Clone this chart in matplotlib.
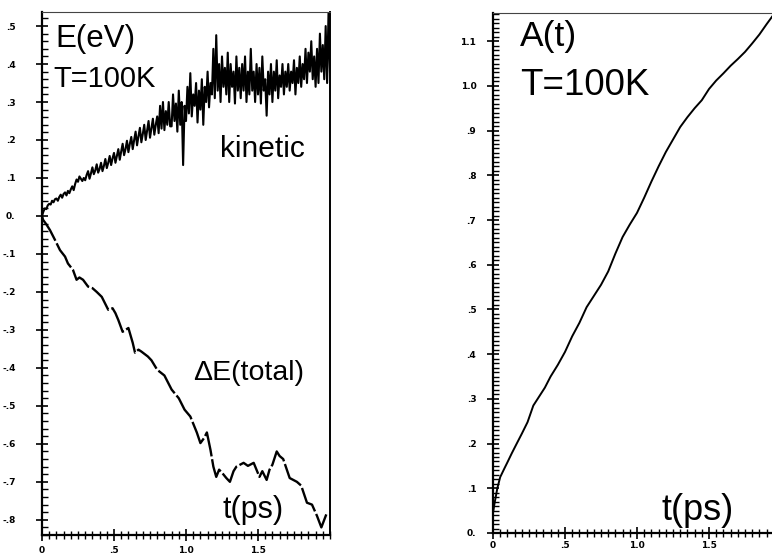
import numpy as np
import matplotlib.pyplot as plt
from matplotlib.ticker import FixedLocator, MultipleLocator

# kinetic energy, sampled every 0.01 ps
t_kin = np.arange(201) * 0.01
e_kin = [
    0.000, 0.012, 0.020, 0.018, 0.028, 0.032, 0.030, 0.040, 0.036, 0.044,
    0.046, 0.040, 0.050, 0.056, 0.048, 0.058, 0.062, 0.054, 0.066, 0.060,
    0.070, 0.078, 0.068, 0.084, 0.096, 0.090, 0.104, 0.098, 0.092, 0.100,
    0.094, 0.108, 0.118, 0.098, 0.112, 0.128, 0.110, 0.120, 0.136, 0.114,
    0.124, 0.140, 0.118, 0.132, 0.150, 0.126, 0.140, 0.158, 0.134, 0.152,
    0.166, 0.140, 0.158, 0.176, 0.148, 0.170, 0.190, 0.160, 0.176, 0.198,
    0.168, 0.190, 0.208, 0.176, 0.200, 0.222, 0.186, 0.210, 0.232, 0.194,
    0.216, 0.240, 0.200, 0.226, 0.250, 0.206, 0.232, 0.256, 0.214, 0.240,
    0.262, 0.218, 0.290, 0.230, 0.300, 0.226, 0.276, 0.240, 0.300, 0.236,
    0.236, 0.320, 0.250, 0.296, 0.222, 0.330, 0.240, 0.300, 0.134, 0.290,
    0.250, 0.340, 0.270, 0.376, 0.262, 0.320, 0.290, 0.350, 0.246, 0.330,
    0.280, 0.360, 0.240, 0.340, 0.300, 0.380, 0.286, 0.350, 0.320, 0.440,
    0.310, 0.476, 0.330, 0.400, 0.300, 0.420, 0.340, 0.390, 0.320, 0.430,
    0.300, 0.400, 0.340, 0.380, 0.296, 0.420, 0.330, 0.390, 0.310, 0.400,
    0.330, 0.420, 0.300, 0.380, 0.320, 0.440, 0.330, 0.380, 0.300, 0.400,
    0.320, 0.390, 0.296, 0.420, 0.330, 0.360, 0.264, 0.380, 0.320, 0.400,
    0.300, 0.380, 0.330, 0.410, 0.310, 0.370, 0.340, 0.400, 0.320, 0.380,
    0.340, 0.400, 0.330, 0.380, 0.350, 0.410, 0.320, 0.390, 0.350, 0.420,
    0.340, 0.400, 0.360, 0.440, 0.350, 0.430, 0.380, 0.460, 0.360, 0.420,
    0.340, 0.440, 0.350, 0.480, 0.380, 0.450, 0.360, 0.500, 0.350, 0.540,
    0.380,
]

# change of total energy
t_tot = [0.0, 0.007, 0.03, 0.055, 0.09, 0.125, 0.16, 0.18, 0.215, 0.24, 0.26,
         0.285, 0.32, 0.35, 0.38, 0.415, 0.46, 0.49, 0.51, 0.53, 0.56, 0.60,
         0.63, 0.646, 0.67, 0.69, 0.735, 0.76, 0.80, 0.85, 0.90, 0.95, 0.99,
         1.03, 1.075, 1.10, 1.125, 1.145, 1.17, 1.19, 1.21, 1.23, 1.25, 1.28,
         1.305, 1.33, 1.35, 1.40, 1.43, 1.47, 1.51, 1.53, 1.56, 1.58, 1.60,
         1.63, 1.65, 1.675, 1.72, 1.77, 1.80, 1.84, 1.875, 1.91, 1.94, 1.96,
         1.98]
e_tot = [0.0, -0.01, -0.022, -0.037, -0.063, -0.09, -0.107, -0.125, -0.142,
         -0.168, -0.162, -0.168, -0.186, -0.19, -0.2, -0.213, -0.247, -0.243,
         -0.256, -0.274, -0.305, -0.295, -0.334, -0.36, -0.352, -0.357, -0.37,
         -0.38, -0.405, -0.42, -0.457, -0.48, -0.51, -0.528, -0.57, -0.598,
         -0.585, -0.57, -0.616, -0.66, -0.687, -0.668, -0.676, -0.69, -0.70,
         -0.672, -0.66, -0.65, -0.658, -0.65, -0.687, -0.672, -0.695, -0.668,
         -0.655, -0.62, -0.632, -0.64, -0.69, -0.70, -0.71, -0.755, -0.76,
         -0.79, -0.82, -0.80, -0.78]

# A(t)
t_a = [0.0, 0.01, 0.03, 0.05, 0.08, 0.10, 0.13, 0.16, 0.20, 0.24, 0.28, 0.32,
       0.36, 0.40, 0.45, 0.50, 0.55, 0.60, 0.65, 0.70, 0.75, 0.80, 0.85, 0.90,
       0.95, 1.00, 1.05, 1.10, 1.15, 1.20, 1.25, 1.30, 1.35, 1.40, 1.45, 1.50,
       1.55, 1.60, 1.65, 1.70, 1.75, 1.80, 1.85, 1.90, 1.95, 2.0]
a_t = [0.045, 0.065, 0.10, 0.125, 0.145, 0.158, 0.178, 0.197, 0.222, 0.248,
       0.285, 0.305, 0.325, 0.35, 0.376, 0.405, 0.44, 0.47, 0.505, 0.53, 0.555,
       0.585, 0.625, 0.662, 0.69, 0.716, 0.75, 0.786, 0.82, 0.852, 0.88, 0.908,
       0.93, 0.95, 0.968, 0.993, 1.012, 1.028, 1.045, 1.06, 1.076, 1.095,
       1.115, 1.138, 1.16, 1.18]

left_yticks = [-0.8, -0.7, -0.6, -0.5, -0.4, -0.3, -0.2, -0.1, 0.0, 0.1, 0.2, 0.3, 0.4, 0.5]
left_ylabels = ['-.8', '-.7', '-.6', '-.5', '-.4', '-.3', '-.2', '-.1', '0.', '.1', '.2', '.3', '.4', '.5']
right_yticks = [0.0, 0.1, 0.2, 0.3, 0.4, 0.5, 0.6, 0.7, 0.8, 0.9, 1.0, 1.1]
right_ylabels = ['0.', '.1', '.2', '.3', '.4', '.5', '.6', '.7', '.8', '.9', '1.0', '1.1']
left_xticks = [0.0, 0.5, 1.0, 1.5]
left_xlabels = ['0', '.5', '1.0', '1.5']
right_xticks = [0.0, 0.5, 1.0, 1.5, 2.0]
right_xlabels = ['0', '.5', '1.0', '1.5', '2.0']

W, H = 772, 555
fig = plt.figure(figsize=(W / 100, H / 100), dpi=100)

tickfont = dict(family='DejaVu Sans', weight='bold', size=6.5)
textfont = dict(family='Liberation Sans')


def px_axes(x0, y0, x1, y1):
    # axes from pixel box (top-left origin)
    return fig.add_axes([x0 / W, 1 - y1 / H, (x1 - x0) / W, (y1 - y0) / H])


def style(ax, ypad, xpad, yminor):
    for s in ['left', 'bottom']:
        ax.spines[s].set_linewidth(1.6)
    ax.spines['top'].set_linewidth(0.8)
    ax.spines['top'].set_color('#444444')
    ax.spines['right'].set_linewidth(1.4)
    ax.xaxis.set_minor_locator(MultipleLocator(0.05))
    ax.yaxis.set_minor_locator(MultipleLocator(yminor))
    ax.tick_params(which='both', left=True, bottom=True, top=False, right=False,
                   color='black')
    ax.tick_params(axis='x', which='major', direction='inout', length=8, width=1.2, pad=xpad)
    ax.tick_params(axis='x', which='minor', direction='inout', length=6, width=1.0)
    ax.tick_params(axis='y', which='major', direction='inout', length=8, width=1.2, pad=ypad)
    ax.tick_params(axis='y', which='minor', direction='in', length=4, width=1.0)
    for lab in ax.get_xticklabels() + ax.get_yticklabels():
        lab.set(**tickfont)


def txt(x, y, s, size):
    fig.text(x / W, 1 - y / H, s, fontsize=size, va='baseline', ha='left', **textfont)


# left panel: energies
ax1 = px_axes(42, 12, 330, 535)
ax1.plot(t_kin, e_kin, color='black', lw=1.5)
ax1.plot(t_tot, e_tot, color='black', lw=1.7, dashes=(12, 1.2))
ax1.set_xlim(0, 2.0)
ax1.set_ylim(-0.84, 0.537)
ax1.xaxis.set_major_locator(FixedLocator(left_xticks))
ax1.set_xticklabels(left_xlabels)
ax1.yaxis.set_major_locator(FixedLocator(left_yticks))
ax1.set_yticklabels(left_ylabels)
style(ax1, ypad=15, xpad=4, yminor=0.02)

# right panel: A(t), runs off the right edge
ax2 = px_axes(493, 13, 781, 533)
ax2.plot(t_a, a_t, color='black', lw=1.4)
ax2.set_xlim(0, 2.0)
ax2.set_ylim(0, 1.163)
ax2.xaxis.set_major_locator(FixedLocator(right_xticks))
ax2.set_xticklabels(right_xlabels)
ax2.yaxis.set_major_locator(FixedLocator(right_yticks))
ax2.set_yticklabels(right_ylabels)
style(ax2, ypad=8, xpad=2, yminor=0.01)

txt(55, 47, 'E(eV)', 22.5)
txt(53, 87, 'T=100K', 21)
txt(220, 157, 'kinetic', 21.5)
txt(193, 380, '\u0394E(total)', 20.5)
txt(222, 518, 't(ps)', 22)

txt(520, 46, 'A(t)', 25.5)
txt(520, 95, 'T=100K', 26.5)
txt(661, 520, 't(ps)', 26)

fig.savefig('out.png', dpi=100)
